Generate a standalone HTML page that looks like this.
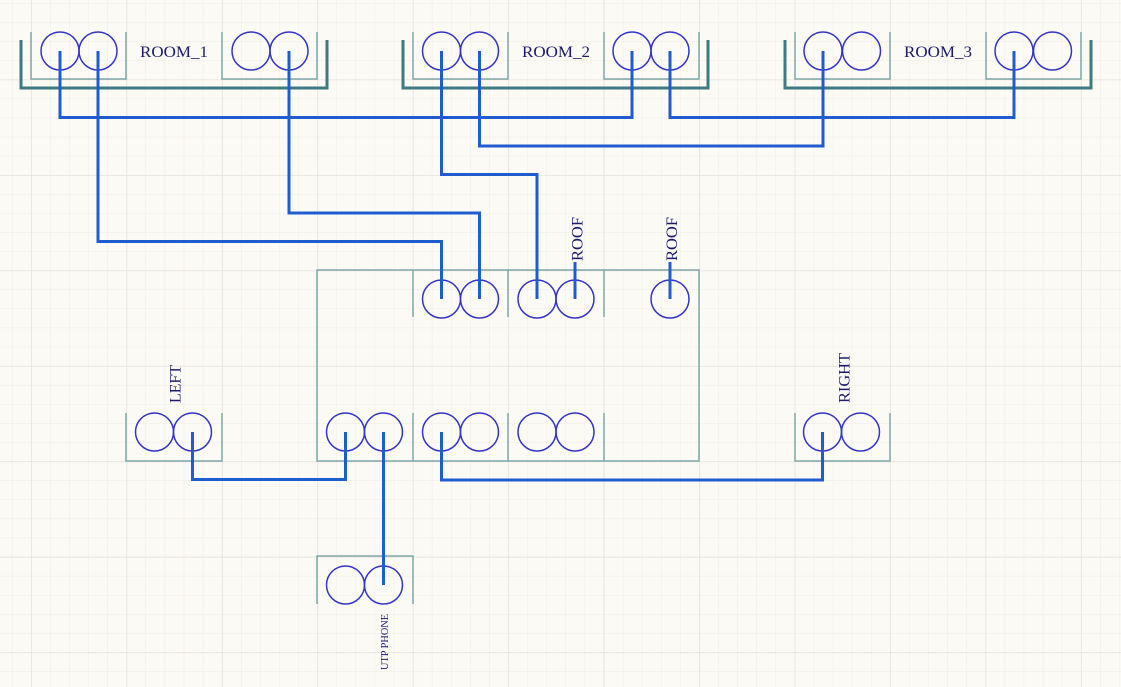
<!DOCTYPE html>
<html>
<head>
<meta charset="utf-8">
<style>
html,body{margin:0;padding:0;background:#fcfaf5;}
svg{display:block;}
text{font-family:"Liberation Serif",serif;fill:#1c1c6a;}
</style>
</head>
<body>
<svg width="1121" height="687" viewBox="0 0 1121 687" xmlns="http://www.w3.org/2000/svg">
<defs>
<pattern id="minor" x="31" y="79.5" width="19.09" height="19.09" patternUnits="userSpaceOnUse">
<path d="M0,0 V19.09 M0,0 H19.09" stroke="#f1ece4" stroke-width="1" fill="none"/>
</pattern>
<pattern id="major" x="31" y="79.5" width="95.45" height="95.45" patternUnits="userSpaceOnUse">
<path d="M0,0 V95.45 M0,0 H95.45" stroke="#e6e1da" stroke-width="1.5" fill="none"/>
</pattern>
</defs>
<rect width="1121" height="687" fill="#fcfaf5"/>
<rect width="1121" height="687" fill="url(#minor)"/>
<rect width="1121" height="687" fill="url(#major)"/>

<!-- thin component boxes -->
<g stroke="#7ea8aa" stroke-width="1.5" fill="none">
<path d="M31,32 V79 H126 V32"/>
<path d="M222,32 V79 H317 V32"/>
<path d="M413,32 V79 H508 V32"/>
<path d="M604,32 V79 H699 V32"/>
<path d="M795,32 V79 H890 V32"/>
<path d="M986,32 V79 H1081 V32"/>
<rect x="317" y="270" width="382" height="191"/>
<path d="M413,270 V317 M508,270 V317 M604,270 V317"/>
<path d="M413,413 V461 M508,413 V461 M604,413 V461"/>
<path d="M126,413 V461 H222 V413"/>
<path d="M795,413 V461 H890 V413"/>
<path d="M317,604 V556 H413 V604"/>
</g>

<!-- thick brackets -->
<g stroke="#3e7b80" stroke-width="3" fill="none">
<path d="M21,40 V88 H327 V40"/>
<path d="M403,40 V88 H708 V40"/>
<path d="M785,40 V88 H1091 V40"/>
</g>

<!-- circles -->
<g stroke="#3434c8" stroke-width="1.5" fill="none">
<circle cx="60" cy="51" r="19"/><circle cx="98" cy="51" r="19"/>
<circle cx="251" cy="51" r="19"/><circle cx="289" cy="51" r="19"/>
<circle cx="441.5" cy="51" r="19"/><circle cx="479.5" cy="51" r="19"/>
<circle cx="632" cy="51" r="19"/><circle cx="670" cy="51" r="19"/>
<circle cx="823" cy="51" r="19"/><circle cx="861.5" cy="51" r="19"/>
<circle cx="1014" cy="51" r="19"/><circle cx="1052.5" cy="51" r="19"/>

<circle cx="441.5" cy="299" r="19"/><circle cx="479.5" cy="299" r="19"/>
<circle cx="537" cy="299" r="19"/><circle cx="575" cy="299" r="19"/>
<circle cx="670" cy="299" r="19"/>

<circle cx="154.5" cy="432" r="19"/><circle cx="192.5" cy="432" r="19"/>
<circle cx="345.5" cy="432" r="19"/><circle cx="383.5" cy="432" r="19"/>
<circle cx="441.5" cy="432" r="19"/><circle cx="479.5" cy="432" r="19"/>
<circle cx="537" cy="432" r="19"/><circle cx="575" cy="432" r="19"/>
<circle cx="822.5" cy="432" r="19"/><circle cx="860.5" cy="432" r="19"/>

<circle cx="345.5" cy="585" r="19"/><circle cx="383.5" cy="585" r="19"/>
</g>

<!-- wires -->
<g stroke="#1f5ccf" stroke-width="3" fill="none" stroke-linejoin="miter">
<path d="M60,51 V117.5 H632 V51"/>
<path d="M98,51 V241.5 H441.5 V299"/>
<path d="M289,51 V213 H479.5 V299"/>
<path d="M441.5,51 V174.5 H537 V299"/>
<path d="M479.5,51 V146 H823 V51"/>
<path d="M670,51 V117.5 H1014 V51"/>
<path d="M192.5,432 V479.5 H345.5 V432"/>
<path d="M383.5,432 V585"/>
<path d="M441.5,432 V480 H822.5 V432"/>
<path d="M575,262 V299"/>
<path d="M670,262 V299"/>
</g>

<!-- labels -->
<text x="140" y="57" font-size="16" textLength="68" lengthAdjust="spacingAndGlyphs">ROOM_1</text>
<text x="522" y="57" font-size="16" textLength="68" lengthAdjust="spacingAndGlyphs">ROOM_2</text>
<text x="904" y="57" font-size="16" textLength="68" lengthAdjust="spacingAndGlyphs">ROOM_3</text>

<text transform="translate(582.5,261) rotate(-90)" font-size="16" textLength="44" lengthAdjust="spacingAndGlyphs">ROOF</text>
<text transform="translate(677,261) rotate(-90)" font-size="16" textLength="44" lengthAdjust="spacingAndGlyphs">ROOF</text>
<text transform="translate(180.5,403) rotate(-90)" font-size="16" textLength="38" lengthAdjust="spacingAndGlyphs">LEFT</text>
<text transform="translate(849.5,403) rotate(-90)" font-size="16" textLength="50" lengthAdjust="spacingAndGlyphs">RIGHT</text>
<text transform="translate(388,670) rotate(-90)" font-size="10" textLength="56" lengthAdjust="spacingAndGlyphs">UTP PHONE</text>
</svg>
</body>
</html>
